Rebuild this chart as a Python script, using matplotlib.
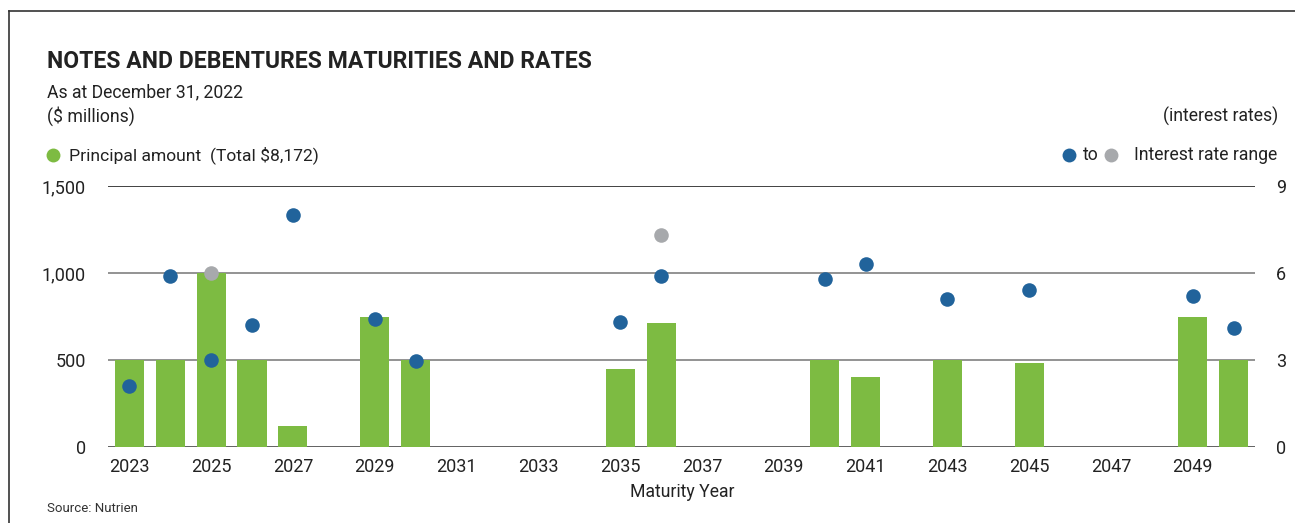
import matplotlib
matplotlib.use("Agg")
import matplotlib.pyplot as plt
from matplotlib.lines import Line2D

plt.rcParams['font.family'] = ['Roboto', 'DejaVu Sans']

# Principal maturities ($ millions)
years = [2023, 2024, 2025, 2026, 2027, 2029, 2030, 2035, 2036, 2040, 2041, 2043, 2045, 2049, 2050]
principal = [500, 500, 1000, 500, 122, 750, 500, 450, 715, 500, 400, 500, 485, 750, 500]

# Interest rates (%): low end of each range
rate_years = [2023, 2024, 2025, 2026, 2027, 2029, 2030, 2035, 2036, 2040, 2041, 2043, 2045, 2049, 2050]
rate_low = [2.1, 5.9, 3.0, 4.2, 8.0, 4.4, 2.95, 4.3, 5.9, 5.8, 6.3, 5.1, 5.4, 5.2, 4.1]
# high end of the range where one exists
range_years = [2025, 2036]
rate_high = [6.0, 7.3]

xtick_years = list(range(2023, 2050, 2))
left_ticks = [0, 500, 1000, 1500]
left_labels = ["0", "500", "1,000", "1,500"]
right_ticks = [0, 3, 6, 9]

GREEN = "#7DBB42"
BLUE = "#21639B"
GREY = "#A7A9AC"
TEXT = "#222222"

W, H = 1295, 523
fig = plt.figure(figsize=(W / 100, H / 100), dpi=100)

def px(x, y):
    return x / W, 1 - y / H

ax = fig.add_axes([108 / W, 1 - 447 / H, (1255 - 108) / W, (447 - 186) / H])
ax.bar(years, principal, width=0.71, color=GREEN, zorder=2)
ax.set_xlim(2022.48, 2050.52)
ax.set_ylim(0, 1500)
for v, c in zip(left_ticks, ["#555555", "#8a8a8a", "#8a8a8a", "#333333"]):
    ax.axhline(v, color=c, lw=1.3, zorder=1)
for s in ax.spines.values():
    s.set_visible(False)
ax.set_yticks(left_ticks)
ax.set_yticklabels(left_labels)
ax.set_xticks(xtick_years)
ax.set_xticklabels([str(y) for y in xtick_years])
ax.tick_params(axis='y', length=0, pad=16, labelsize=13, labelcolor=TEXT)
ax.tick_params(axis='x', length=0, pad=8, labelsize=13, labelcolor=TEXT)

ax2 = ax.twinx()
ax2.set_ylim(0, 9)
ax2.set_yticks(right_ticks)
ax2.tick_params(axis='y', length=0, pad=15, labelsize=13, labelcolor=TEXT)
for s in ax2.spines.values():
    s.set_visible(False)
ax2.scatter(range_years, rate_high, s=110, color=GREY, zorder=3, linewidths=0)
ax2.scatter(rate_years, rate_low, s=110, color=BLUE, zorder=4, linewidths=0)
ax2.set_xlim(ax.get_xlim())

# frame lines (left and top)
fig.add_artist(Line2D([9 / W, 9 / W], [0, 1 - 11 / H], color="#333333", lw=1.2))
fig.add_artist(Line2D([9 / W, 1], [1 - 11 / H, 1 - 11 / H], color="#333333", lw=1.2))

fig.text(*px(47, 61), "NOTES AND DEBENTURES MATURITIES AND RATES", fontsize=16.6,
         fontweight='bold', color=TEXT, va='center', ha='left')
fig.text(*px(47, 92), "As at December 31, 2022", fontsize=12.7, color=TEXT, va='center')
fig.text(*px(47, 116), "($ millions)", fontsize=12.7, color=TEXT, va='center')
fig.text(*px(1278, 116), "(interest rates)", fontsize=12.7, color=TEXT, va='center', ha='right')

fig.add_artist(Line2D([53 / W], [1 - 155 / H], marker='o', ms=10, color=GREEN, mew=0))
fig.text(*px(69, 155), "Principal amount  (Total $8,172)", fontsize=12.6, color=TEXT, va='center')

fig.add_artist(Line2D([1069 / W], [1 - 155 / H], marker='o', ms=10, color=BLUE, mew=0))
fig.text(*px(1083, 155), "to", fontsize=12.7, color=TEXT, va='center')
fig.add_artist(Line2D([1111 / W], [1 - 155 / H], marker='o', ms=10, color=GREY, mew=0))
fig.text(*px(1277, 155), "Interest rate range", fontsize=12.7, color=TEXT, va='center', ha='right')

fig.text(*px(682, 492), "Maturity Year", fontsize=12.7, color=TEXT, va='center', ha='center')
fig.text(*px(47, 508), "Source: Nutrien", fontsize=9.5, color="#333333", va='center')

fig.savefig("out.png", dpi=100)
